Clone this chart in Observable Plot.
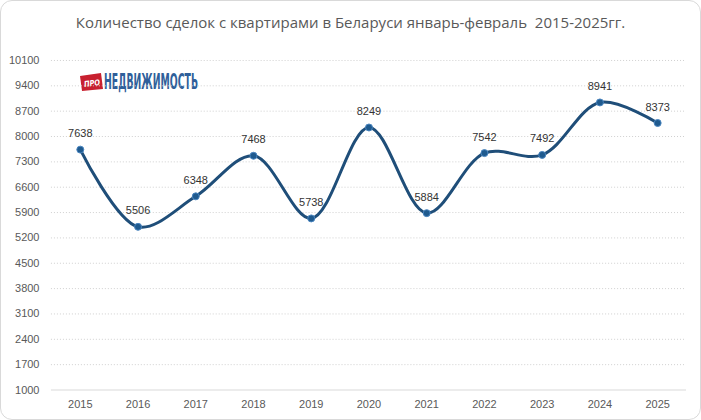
<!DOCTYPE html>
<html>
<head>
<meta charset="utf-8">
<script src="https://cdn.jsdelivr.net/npm/d3@7"></script>
<script src="https://cdn.jsdelivr.net/npm/@observablehq/plot@0.6"></script>
<style>
  html, body { margin: 0; padding: 0; background: #fff; }
  #card { position: relative; box-sizing: border-box; width: 701px; height: 420px; border: 1px solid #d9d9d9; border-radius: 12px; background: #fff; overflow: hidden; }
  #title { position: absolute; left: -1px; top: 11px; width: 701px; text-align: center; font-family: "Open Sans", sans-serif; font-size: 15px; color: #595959; white-space: pre; }
  #chart { position: absolute; left: -1px; top: 39px; }
  #logo { position: absolute; left: 77px; top: 69px; overflow: visible; }
</style>
</head>
<body>
<div id="card">
  <div id="title">Количество сделок с квартирами в Беларуси январь-февраль  2015-2025гг.</div>
  <svg id="logo" width="130" height="24" viewBox="0 0 130 24">
    <polygon points="2,6 23,3 25,19 4,21" fill="#c8202f"/>
    <text x="14" y="16" text-anchor="middle" font-family="DejaVu Sans, sans-serif" font-size="8" font-weight="bold" font-style="italic" fill="#fff" transform="rotate(-8 14 13)" textLength="16" lengthAdjust="spacingAndGlyphs">ПРО</text>
    <text x="26" y="19" font-family="DejaVu Sans Condensed, DejaVu Sans, sans-serif" font-size="22" font-weight="bold" fill="#2f5f9a" textLength="94" lengthAdjust="spacingAndGlyphs">НЕДВИЖИМОСТЬ</text>
  </svg>
  <div id="chart"></div>
</div>
<script>
const years = ["2015","2016","2017","2018","2019","2020","2021","2022","2023","2024","2025"];
const deals = [7638, 5506, 6348, 7468, 5738, 8249, 5884, 7542, 7492, 8941, 8373];
const yTicks = [1000, 1700, 2400, 3100, 3800, 4500, 5200, 5900, 6600, 7300, 8000, 8700, 9400, 10100];

const data = years.map((y, i) => ({year: y, value: deals[i]}));
const lineColor = "#1f4e79";

const chart = Plot.plot({
  width: 701,
  height: 381,
  marginLeft: 51,
  marginRight: 14,
  marginTop: 20,
  marginBottom: 31,
  style: {fontFamily: "Liberation Sans, Arial, sans-serif", fontSize: "11px", color: "#595959", background: "transparent"},
  x: {type: "point", domain: years, padding: 0.5, round: false, label: null},
  y: {domain: [1000, 10100], ticks: yTicks, label: null},
  marks: [
    Plot.gridY(yTicks.filter(t => t !== 1000), {stroke: "#d0d0d0", strokeOpacity: 1, strokeDasharray: "1,2"}),
    Plot.ruleY([1000], {stroke: "#d9d9d9", strokeWidth: 1}),
    Plot.axisY(yTicks, {tickSize: 0, tickPadding: 12, fill: "#595959", label: null, tickFormat: d => String(d)}),
    Plot.axisX({tickSize: 0, tickPadding: 10, fill: "#595959", label: null}),
    Plot.line(data, {x: "year", y: "value", curve: "catmull-rom", stroke: lineColor, strokeWidth: 3}),
    Plot.dot(data, {x: "year", y: "value", r: 3.5, fill: "#1f5a8e", stroke: "#4a86c0", strokeWidth: 1}),
    Plot.text(data, {x: "year", y: "value", text: d => String(d.value), dy: -16, fill: "#333", fontSize: 11})
  ]
});
document.getElementById("chart").appendChild(chart);
</script>
</body>
</html>
